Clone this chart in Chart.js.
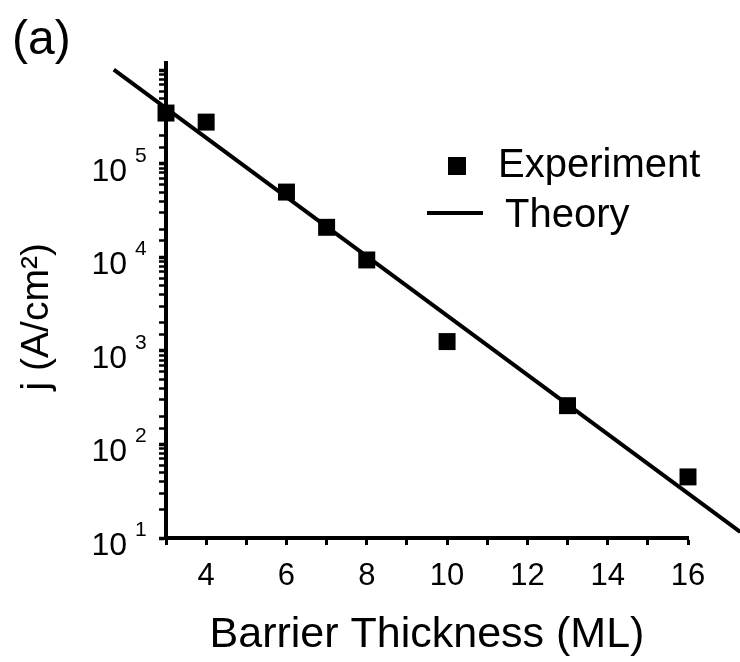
<!DOCTYPE html>
<html>
<head>
<meta charset="utf-8">
<script src="https://cdn.jsdelivr.net/npm/chart.js@4.4.0/dist/chart.umd.min.js"></script>
<style>
    html, body { margin: 0; padding: 0; background: #fff; }
    #wrap { width: 740px; height: 662px; }
</style>
</head>
<body>
<div id="wrap"><canvas id="jChart" width="740" height="662"></canvas></div>
<script>
// data
const thickness = [3, 4, 6, 7, 8, 10, 13, 16];
const currentDensity = [3.5e5, 2.8e5, 5.0e4, 2.1e4, 9.4e3, 1.26e3, 2.6e2, 45];
const theoryThickness = [1.7, 17.3];
const theoryCurrent = [1.02e6, 11.6];
const xTickLabels = [4, 6, 8, 10, 12, 14, 16];
const yExponents = [1, 2, 3, 4, 5];

const FONT = '"Liberation Sans", Arial, Helvetica, sans-serif';

document.addEventListener('DOMContentLoaded', () => {
    setupChart();
});

// panel letter, power-of-ten labels and the in-plot legend
const extraText = {
    id: 'extraText',
    afterDraw(chart) {
        const c = chart.ctx;
        const ys = chart.scales.y;
        c.save();
        c.fillStyle = '#000';
        c.strokeStyle = '#000';

        c.font = '48px ' + FONT;
        c.textAlign = 'left';
        c.textBaseline = 'alphabetic';
        c.fillText('(a)', 12, 54);

        yExponents.forEach(e => {
            const py = ys.getPixelForValue(Math.pow(10, e));
            c.font = '32px ' + FONT;
            c.textAlign = 'right';
            c.fillText('10', 127, py + 17);
            c.font = '21px ' + FONT;
            c.textAlign = 'left';
            c.fillText(String(e), 135, py - 2);
        });

        // legend
        c.fillRect(448, 157, 18, 18);
        c.font = '40px ' + FONT;
        c.textAlign = 'left';
        c.fillText('Experiment', 498, 177);
        c.lineWidth = 4;
        c.beginPath();
        c.moveTo(427, 213);
        c.lineTo(483, 213);
        c.stroke();
        c.fillText('Theory', 505, 227);
        c.restore();
    }
};

function setupChart() {
    Chart.defaults.font.family = FONT;
    Chart.defaults.color = '#000';
    const ctx = document.getElementById('jChart').getContext('2d');

    new Chart(ctx, {
        type: 'scatter',
        data: {
            datasets: [{
                label: 'Experiment',
                data: thickness.map((x, i) => ({ x: x, y: currentDensity[i] })),
                pointStyle: 'rect',
                pointRadius: 12,
                pointBorderWidth: 0,
                backgroundColor: '#000',
                borderColor: '#000',
                clip: false
            }, {
                label: 'Theory',
                data: theoryThickness.map((x, i) => ({ x: x, y: theoryCurrent[i] })),
                showLine: true,
                pointRadius: 0,
                borderColor: '#000',
                borderWidth: 4,
                clip: false
            }]
        },
        options: {
            responsive: false,
            animation: false,
            layout: { padding: { left: 0, right: 52, top: 63, bottom: 0 } },
            plugins: {
                legend: { display: false },
                tooltip: { enabled: false }
            },
            scales: {
                x: {
                    type: 'linear',
                    min: 3,
                    max: 16,
                    ticks: {
                        stepSize: 1,
                        autoSkip: false,
                        maxRotation: 0,
                        padding: 13,
                        font: { size: 31 },
                        color: '#000',
                        callback: v => xTickLabels.includes(v) ? String(v) : ''
                    },
                    grid: {
                        drawOnChartArea: false,
                        tickLength: 7,
                        tickWidth: 3,
                        tickColor: '#000'
                    },
                    border: { color: '#000', width: 4 },
                    title: {
                        display: true,
                        text: 'Barrier Thickness (ML)',
                        font: { size: 43 },
                        color: '#000',
                        padding: { top: 0, bottom: 1 }
                    },
                    afterFit: s => { s.height = 124; }
                },
                y: {
                    type: 'logarithmic',
                    min: 10,
                    max: 1.2e6,
                    ticks: { display: false },
                    grid: {
                        drawOnChartArea: false,
                        tickLength: 7,
                        tickWidth: c => {
                            const v = c.tick.value;
                            return Math.abs(Math.log10(v) - Math.round(Math.log10(v))) < 1e-6 ? 3.5 : 2.5;
                        },
                        tickColor: c => c.tick.value > 1.1e6 ? 'rgba(0,0,0,0)' : '#000'
                    },
                    border: { color: '#000', width: 4 },
                    title: {
                        display: true,
                        text: 'j (A/cm²)   ',
                        font: { size: 39 },
                        color: '#000',
                        padding: { top: 14, bottom: 0 }
                    },
                    afterFit: s => { s.width = 166; }
                }
            }
        },
        plugins: [extraText]
    });
}
</script>
</body>
</html>
